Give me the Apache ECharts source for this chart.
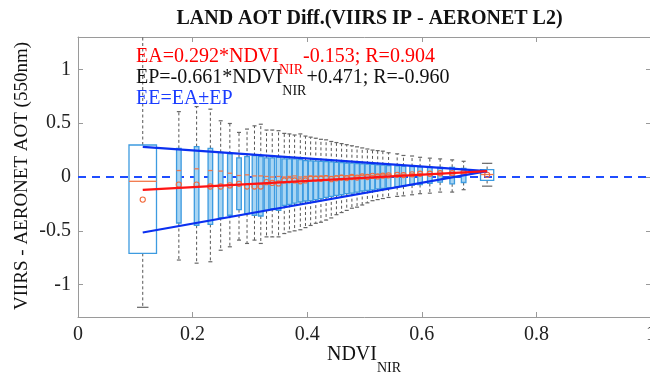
<!DOCTYPE html>
<html>
<head>
<meta charset="utf-8">
<script src="https://cdn.jsdelivr.net/npm/echarts@6/dist/echarts.min.js"></script>
<style>html,body{margin:0;padding:0;background:#fff}#c{width:650px;height:377px}</style>
</head>
<body>
<div id="c"></div>
<script>
// ---- data ----
const ndvi = [0.113, 0.176, 0.207, 0.231, 0.249, 0.265, 0.281, 0.295, 0.308, 0.319, 0.329, 0.339, 0.350, 0.360, 0.369, 0.378, 0.388, 0.397, 0.406, 0.415, 0.424, 0.433, 0.442, 0.451, 0.460, 0.469, 0.478, 0.487, 0.496, 0.505, 0.514, 0.523, 0.532, 0.542, 0.557, 0.568, 0.583, 0.597, 0.614, 0.632, 0.653, 0.673, 0.714];
const whiskerHigh = [1.40, 0.607, 0.654, 0.630, 0.522, 0.497, 0.414, 0.445, 0.475, 0.490, 0.436, 0.436, 0.430, 0.405, 0.400, 0.390, 0.400, 0.380, 0.370, 0.360, 0.350, 0.345, 0.330, 0.320, 0.310, 0.300, 0.290, 0.280, 0.270, 0.260, 0.250, 0.245, 0.240, 0.225, 0.215, 0.200, 0.195, 0.183, 0.175, 0.168, 0.159, 0.146, 0.127];
const q3 = [0.297, 0.266, 0.282, 0.266, 0.229, 0.214, 0.177, 0.189, 0.199, 0.189, 0.177, 0.177, 0.183, 0.168, 0.168, 0.168, 0.162, 0.152, 0.150, 0.148, 0.145, 0.142, 0.140, 0.136, 0.133, 0.130, 0.128, 0.125, 0.122, 0.120, 0.117, 0.113, 0.110, 0.107, 0.103, 0.100, 0.097, 0.094, 0.092, 0.090, 0.090, 0.081, 0.069];
const median = [-0.04, 0.06, 0.076, 0.06, 0.055, 0.035, 0.014, 0.02, 0.01, 0.01, 0.005, 0.0, 0.005, 0.0, 0.005, 0.01, 0.0, 0.005, 0.01, 0.005, 0.01, 0.01, 0.005, 0.01, 0.015, 0.01, 0.015, 0.01, 0.015, 0.02, 0.015, 0.02, 0.02, 0.025, 0.02, 0.025, 0.03, 0.03, 0.03, 0.035, 0.03, 0.035, 0.023];
const q1 = [-0.709, -0.427, -0.448, -0.440, -0.377, -0.355, -0.303, -0.340, -0.355, -0.362, -0.310, -0.294, -0.310, -0.263, -0.254, -0.242, -0.232, -0.223, -0.220, -0.210, -0.200, -0.190, -0.180, -0.170, -0.165, -0.155, -0.150, -0.140, -0.130, -0.125, -0.120, -0.110, -0.105, -0.100, -0.090, -0.085, -0.075, -0.070, -0.060, -0.048, -0.063, -0.051, -0.032];
const whiskerLow = [-1.21, -0.771, -0.800, -0.787, -0.680, -0.648, -0.586, -0.617, -0.586, -0.617, -0.556, -0.556, -0.556, -0.525, -0.510, -0.500, -0.490, -0.470, -0.450, -0.430, -0.420, -0.400, -0.380, -0.350, -0.330, -0.310, -0.290, -0.280, -0.260, -0.240, -0.220, -0.210, -0.200, -0.190, -0.180, -0.175, -0.165, -0.155, -0.150, -0.140, -0.140, -0.118, -0.085];
const mean = [-0.21, -0.07, -0.07, -0.088, -0.088, -0.078, -0.063, -0.088, -0.088, -0.088, -0.048, -0.055, -0.06, -0.032, -0.03, -0.032, -0.04, -0.032, -0.017, -0.015, -0.017, -0.01, -0.02, -0.012, -0.005, -0.01, 0.0, -0.005, 0.005, 0.0, 0.01, 0.005, 0.012, 0.015, 0.02, 0.018, 0.025, 0.03, 0.03, 0.035, 0.035, 0.04, 0.02];

const lineX = [0.113, 0.714];
const eaY = [-0.12, 0.055];
const eeUpperY = [0.28, 0.055];
const eeLowerY = [-0.515, 0.055];
const zeroX = [0, 1];
const zeroY = [0, 0];

const xTicks = {min: 0, max: 1, interval: 0.2};
const yRange = {min: -1.3, max: 1.3};

const titleText = 'LAND AOT Diff.(VIIRS IP - AERONET L2)';
const yName = 'VIIRS - AERONET AOT (550nm)';

// ---- chart ----
const FONT = '"Liberation Serif", "Times New Roman", serif';
const boxData = ndvi.map((x, i) => [x, whiskerLow[i], q1[i], median[i], q3[i], whiskerHigh[i], mean[i]]);
const last = ndvi.length - 1;

function renderBox(params, api) {
  const i = params.dataIndex;
  const x = api.value(0);
  const wDat = i === 0 ? 0.048 : (i === last ? 0.023 : 0.008);
  const capDat = i === 0 ? 0.02 : (i === last ? 0.018 : 0.007);
  const halfW = api.size([wDat, 0])[0] / 2;
  const halfC = api.size([capDat, 0])[0] / 2;
  const pLo = api.coord([x, api.value(1)]);
  const pQ1 = api.coord([x, api.value(2)]);
  const pMed = api.coord([x, api.value(3)]);
  const pQ3 = api.coord([x, api.value(4)]);
  const pHi = api.coord([x, api.value(5)]);
  const pMean = api.coord([x, api.value(6)]);
  const cx = pQ1[0];
  const whStyle = {stroke: '#555555', lineWidth: 1, lineDash: [3, 2.5], fill: null};
  const capStyle = {stroke: '#666666', lineWidth: 1.2, fill: null};
  const narrow = !(i === 0 || i === last);
  return {
    type: 'group',
    children: [
      {type: 'line', shape: {x1: cx, y1: pQ3[1], x2: cx, y2: pHi[1]}, style: whStyle},
      {type: 'line', shape: {x1: cx, y1: pQ1[1], x2: cx, y2: pLo[1]}, style: whStyle},
      {type: 'line', shape: {x1: cx - halfC, y1: pHi[1], x2: cx + halfC, y2: pHi[1]}, style: capStyle},
      {type: 'line', shape: {x1: cx - halfC, y1: pLo[1], x2: cx + halfC, y2: pLo[1]}, style: capStyle},
      {type: 'rect', shape: {x: cx - halfW, y: pQ3[1], width: 2 * halfW, height: pQ1[1] - pQ3[1]},
        style: {fill: narrow ? '#a8d5f3' : 'rgba(255,255,255,0)', stroke: '#3d9be0', lineWidth: 1.3}},
      {type: 'line', shape: {x1: cx - halfW, y1: pMed[1], x2: cx + halfW, y2: pMed[1]}, style: {stroke: '#f2784b', lineWidth: 1.3}},
      {type: 'circle', shape: {cx: pMean[0], cy: pMean[1], r: 2.6}, style: {fill: null, stroke: '#f26a3c', lineWidth: 1.1}}
    ]
  };
}

function subText(main1, sub, main2, color) {
  return {
    text: '{m|' + main1 + '}{s|' + sub + '}' + (main2 ? '{m|' + main2 + '}' : ''),
    rich: {
      m: {fontFamily: FONT, fontSize: 20, fill: color, lineHeight: 30, verticalAlign: 'top'},
      s: {fontFamily: FONT, fontSize: 14, fill: color, lineHeight: 10, verticalAlign: 'bottom'}
    }
  };
}

const chart = echarts.init(document.getElementById('c'), null, {renderer: 'canvas'});
const axisLineStyle = {color: '#9a9a9a', width: 1};
chart.setOption({
  animation: false,
  backgroundColor: '#fff',
  title: {
    text: titleText, left: 364.5, top: 4, textAlign: 'center',
    textStyle: {fontFamily: FONT, fontWeight: 'bold', fontSize: 20, color: '#111'}
  },
  grid: {left: 78, right: -1, top: 37, bottom: 60, containLabel: false, outerBoundsMode: 'none'},
  xAxis: [{
    type: 'value', min: xTicks.min, max: xTicks.max, interval: xTicks.interval,
    axisLine: {show: true, onZero: false, lineStyle: axisLineStyle},
    axisTick: {show: true, inside: true, length: 5, lineStyle: axisLineStyle},
    axisLabel: {fontFamily: FONT, fontSize: 20, color: '#222', margin: 8},
    splitLine: {show: false}
  }, {
    type: 'value', position: 'top', min: xTicks.min, max: xTicks.max, interval: xTicks.interval,
    axisLine: {show: true, onZero: false, lineStyle: axisLineStyle},
    axisTick: {show: true, inside: true, length: 5, lineStyle: axisLineStyle},
    axisLabel: {show: false}, splitLine: {show: false}
  }],
  yAxis: [{
    type: 'value', min: yRange.min, max: yRange.max, splitNumber: 5,
    axisLine: {show: true, onZero: false, lineStyle: axisLineStyle},
    axisTick: {show: true, inside: true, length: 5, lineStyle: axisLineStyle},
    axisLabel: {fontFamily: FONT, fontSize: 20, color: '#222', margin: 7, showMinLabel: false, showMaxLabel: false},
    splitLine: {show: false}
  }, {
    type: 'value', position: 'right', min: yRange.min, max: yRange.max, splitNumber: 5,
    axisLine: {show: true, onZero: false, lineStyle: axisLineStyle},
    axisTick: {show: true, inside: true, length: 5, lineStyle: axisLineStyle},
    axisLabel: {show: false}, splitLine: {show: false}
  }],
  graphic: [
    {type: 'text', left: 136, top: 47, z: 100, style: subText('EA=0.292*NDVI', 'NIR', '-0.153; R=0.904', '#ff0000')},
    {type: 'text', left: 136, top: 68, z: 100, style: subText('EP=-0.661*NDVI', 'NIR', '+0.471; R=-0.960', '#111111')},
    {type: 'text', left: 136, top: 89, z: 100, style: {
      text: 'EE=EA±EP', fontFamily: FONT, fontSize: 20, fill: '#1a3cff'}},
    {type: 'text', x: 22, y: 176, rotation: Math.PI / 2, z: 100, style: {
      text: yName, fontFamily: FONT, fontSize: 19, fill: '#111', align: 'center', verticalAlign: 'middle'}},
    {type: 'text', x: 364, y: 345, z: 100, style: Object.assign(subText('NDVI', 'NIR', '', '#111111'), {align: 'center'})}
  ],
  series: [
    {type: 'line', data: zeroX.map((x, i) => [x, zeroY[i]]), symbol: 'none', silent: true, z: 3,
      lineStyle: {color: '#1f4dff', width: 2, type: [8, 6]}},
    {type: 'custom', renderItem: renderBox, data: boxData, clip: true, z: 4,
      encode: {x: 0, y: [1, 2, 3, 4, 5, 6]}},
    {type: 'line', data: lineX.map((x, i) => [x, eeUpperY[i]]), symbol: 'none', z: 6,
      lineStyle: {color: '#0b30f0', width: 2.2}},
    {type: 'line', data: lineX.map((x, i) => [x, eeLowerY[i]]), symbol: 'none', z: 6,
      lineStyle: {color: '#0b30f0', width: 2.2}},
    {type: 'line', data: lineX.map((x, i) => [x, eaY[i]]), symbol: 'none', z: 7,
      lineStyle: {color: '#ff1414', width: 2.2}}
  ]
});
</script>
</body>
</html>
